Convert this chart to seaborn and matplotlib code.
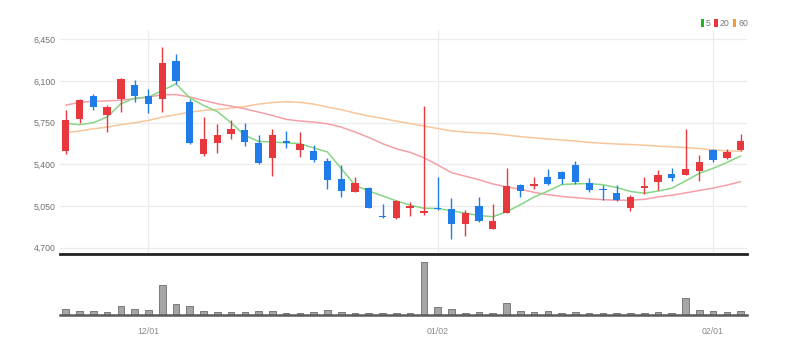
import numpy as np
import matplotlib
matplotlib.use("Agg")
import matplotlib.pyplot as plt
import seaborn as sns
from matplotlib.patches import Patch
from matplotlib import font_manager

# ---------------- data ----------------
opens = [5512, 5782, 5969, 5810, 5944, 6067, 5977, 5944, 6270, 5922,
         5489, 5581, 5651, 5690, 5581, 5453, 5596, 5523, 5509, 5425,
         5280, 5169, 5202, 4965, 4951, 5029, 4993, 5037, 5021, 4895,
         5049, 4856, 4987, 5224, 5219, 5294, 5336, 5392, 5247, 5191,
         5160, 5033, 5201, 5252, 5316, 5313, 5341, 5518, 5453, 5518]
highs = [5852, 5950, 5991, 5894, 6123, 6111, 6033, 6382, 6326, 5950,
         5796, 5740, 5768, 5749, 5643, 5693, 5682, 5671, 5559, 5453,
         5397, 5294, 5210, 5063, 5099, 5085, 5885, 5294, 5118, 5015,
         5127, 5063, 5369, 5238, 5294, 5364, 5340, 5431, 5286, 5224,
         5224, 5140, 5294, 5350, 5369, 5700, 5476, 5532, 5532, 5658]
lows = [5489, 5749, 5852, 5671, 5838, 5922, 5832, 5838, 6075, 5573,
        5470, 5498, 5609, 5553, 5406, 5302, 5534, 5461, 5420, 5191,
        5127, 5166, 5029, 4951, 4940, 4968, 4973, 5015, 4773, 4800,
        4917, 4856, 4987, 5127, 5191, 5230, 5233, 5233, 5169, 5099,
        5093, 5005, 5154, 5182, 5257, 5308, 5257, 5420, 5448, 5509]
closes = [5768, 5941, 5880, 5880, 6117, 5969, 5902, 6248, 6103, 5581,
          5615, 5643, 5693, 5587, 5411, 5643, 5580, 5573, 5434, 5272,
          5177, 5247, 5035, 4954, 5093, 5046, 5010, 5021, 4895, 4987,
          4923, 4926, 5219, 5177, 5233, 5238, 5280, 5252, 5182, 5180,
          5099, 5126, 5212, 5313, 5288, 5358, 5420, 5434, 5504, 5593]

ma5 = [5745, 5732, 5749, 5796, 5908, 5955, 5963, 6019, 6075, 5958,
       5894, 5843, 5749, 5643, 5592, 5587, 5580, 5573, 5537, 5503,
       5364, 5224, 5175, 5135, 5093, 5057, 5031, 5029, 5010, 4990,
       4970, 4960, 5001, 5060, 5125, 5175, 5230, 5236, 5238, 5228,
       5205, 5172, 5157, 5175, 5200, 5260, 5324, 5366, 5415, 5470]
ma20 = [5896, 5920, 5928, 5932, 5938, 5950, 5965, 5983, 5985, 5965,
        5936, 5908, 5888, 5866, 5838, 5810, 5777, 5763, 5754, 5740,
        5712, 5671, 5625, 5573, 5530, 5500, 5455, 5395, 5330, 5300,
        5270, 5235, 5210, 5190, 5165, 5145, 5130, 5120, 5110, 5103,
        5098, 5098, 5106, 5126, 5140, 5160, 5180, 5200, 5225, 5254]
ma60 = [5665, 5679, 5698, 5712, 5732, 5749, 5768, 5796, 5816, 5838,
        5852, 5860, 5871, 5885, 5905, 5918, 5925, 5920, 5905, 5880,
        5858, 5830, 5805, 5785, 5762, 5742, 5721, 5700, 5680, 5670,
        5663, 5658, 5645, 5632, 5622, 5612, 5604, 5595, 5584, 5576,
        5570, 5566, 5560, 5552, 5546, 5540, 5532, 5520, 5512, 5510]

volume = [60000, 40000, 40000, 30000, 93000, 57000, 47000, 303000, 107000, 87000,
          43000, 30000, 30000, 30000, 43000, 43000, 17000, 23000, 30000, 47000,
          30000, 23000, 23000, 20000, 21000, 23000, 527000, 77000, 57000, 20000,
          27000, 20000, 120000, 40000, 30000, 43000, 23000, 27000, 23000, 23000,
          23000, 23000, 23000, 30000, 23000, 167000, 47000, 43000, 30000, 43000]

tick_labels = ["12/01", "01/02", "02/01"]
tick_index = [6, 27, 47]
price_ticks = [4700, 5050, 5400, 5750, 6100, 6450]
ma_labels = ["5", "20", "60"]

# ---------------- style ----------------
sns.set_theme(style="white")
installed = {f.name for f in font_manager.fontManager.ttflist}
fams = [f for f in ["Liberation Sans Narrow", "Liberation Sans", "DejaVu Sans"] if f in installed]
narrow = "Liberation Sans Narrow" in installed
plt.rcParams["font.family"] = fams
TS = 7 if narrow else 6.3

UP = "#e8383d"
DOWN = "#1f7ce8"
MA_LINE = ["#86d686", "#f4a0a6", "#f8c69a"]
MA_LEG = ["#22b422", "#e8383d", "#f59a3c"]

W, H = 789, 353
fig = plt.figure(figsize=(W / 100, H / 100), dpi=100)
L, R = 60, 747
ax = fig.add_axes([L / W, 1 - 254 / H, (R - L) / W, (254 - 30) / H])
axv = fig.add_axes([L / W, 1 - 315 / H, (R - L) / W, (315 - 257) / H])

n = len(opens)
idx = np.arange(n)
o = np.array(opens); c = np.array(closes)
h = np.array(highs); lo = np.array(lows)
up = c >= o
colors = np.where(up, UP, DOWN)

# moving averages
for vals, col in zip([ma60, ma20, ma5], [MA_LINE[2], MA_LINE[1], MA_LINE[0]]):
    sns.lineplot(x=idx, y=vals, color=col, lw=1.1, ax=ax, zorder=3)

# wicks and bodies
ax.vlines(idx, lo, h, colors=colors, lw=1.0, zorder=4)
body_bottom = np.minimum(o, c)
body_h = np.maximum(np.abs(c - o), 14)
ax.bar(idx, body_h, bottom=body_bottom, width=0.53, color=colors, zorder=5, linewidth=0)

ax.set_xlim(-0.42, 49.46)
ax.set_ylim(4647, 6527)
ax.set_yticks(price_ticks)
ax.set_yticklabels([f"{v:,}" for v in price_ticks])
ax.set_xticks(tick_index)
ax.tick_params(axis="x", length=0, labelbottom=False)
ax.tick_params(axis="y", length=0, pad=3, labelsize=TS, labelcolor="#707070")
ax.grid(True, color="#ececec", lw=0.9)
ax.set_axisbelow(True)
for s in ["top", "right", "left"]:
    ax.spines[s].set_visible(False)
ax.spines["bottom"].set_color("#222222")
ax.spines["bottom"].set_linewidth(2.0)
ax.set_xlabel(""); ax.set_ylabel("")

# volume
sns.barplot(x=idx, y=volume, color="#a5a5a5", saturation=1, width=0.48,
            edgecolor="#7a7a7a", linewidth=0.7, ax=axv)
axv.set_xlim(-0.42, 49.46)
axv.set_ylim(0, 580000)
axv.set_yticks([])
axv.set_xticks(tick_index)
axv.set_xticklabels(tick_labels)
axv.tick_params(axis="x", length=3, width=1, color="#555555", pad=6,
                labelsize=TS, labelcolor="#8a8a8a")
for s in ["top", "right", "left"]:
    axv.spines[s].set_visible(False)
axv.spines["bottom"].set_color("#5a5a5a")
axv.spines["bottom"].set_linewidth(1.8)
axv.set_xlabel(""); axv.set_ylabel("")

# legend
handles = [Patch(facecolor=col, edgecolor="none", label=lab) for col, lab in zip(MA_LEG, ma_labels)]
fig.legend(handles=handles, loc="upper right", bbox_to_anchor=(748 / W, 1 - 19 / H),
           ncol=3, frameon=False, handlelength=0.4, handleheight=0.9,
           handletextpad=0.2, columnspacing=0.4, fontsize=TS, labelcolor="#777777",
           borderpad=0, borderaxespad=0)

fig.savefig("out.png", dpi=100, facecolor="white")
